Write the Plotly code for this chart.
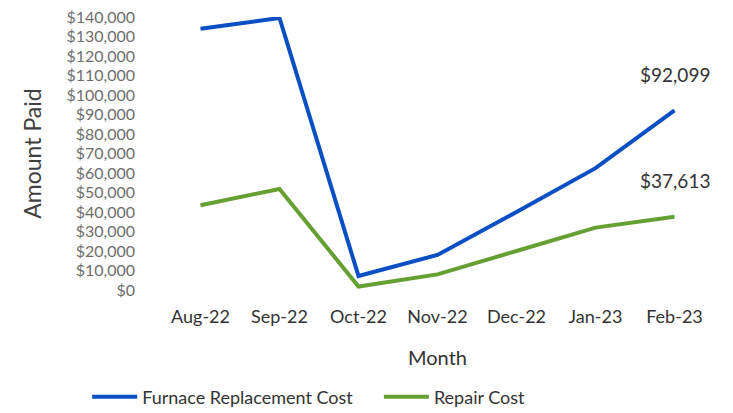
import plotly.graph_objects as go

months = ["Aug-22", "Sep-22", "Oct-22", "Nov-22", "Dec-22", "Jan-23", "Feb-23"]
furnace = [134000, 139500, 7200, 18000, 40000, 62500, 92099]
repair = [43500, 51800, 1800, 8000, 20000, 32000, 37613]

BLUE = "#0A4FC4"
GREEN = "#66A033"
FONT = "Lato"

fig = go.Figure()
fig.add_trace(go.Scatter(x=months, y=furnace, mode="lines", name="Furnace Replacement Cost",
                         line=dict(color=BLUE, width=4), legend="legend"))
fig.add_trace(go.Scatter(x=months, y=repair, mode="lines", name="Repair Cost",
                         line=dict(color=GREEN, width=4), legend="legend2"))

# data labels on the last point of each series
for series in (furnace, repair):
    fig.add_annotation(x=months[-1], y=series[-1], text=f"${series[-1]:,.0f}",
                       showarrow=False, yshift=36, font=dict(size=19, color="#333333"))

legend_style = dict(orientation="h", xref="container", yref="container",
                    y=0.058, xanchor="left", yanchor="middle",
                    font=dict(size=18, color="#333333"), itemwidth=45)

# page body has an 8px margin, so margins are offset a bit
fig.update_layout(
    width=733, height=413,
    margin=dict(l=153, r=27, t=9, b=131, autoexpand=False),
    paper_bgcolor="white", plot_bgcolor="white",
    font=dict(family=FONT, color="#404040"),
    showlegend=True,
    legend=dict(x=0.108, **legend_style),
    legend2=dict(x=0.506, **legend_style),
)
fig.update_xaxes(
    type="category", range=[-0.5, 6.5], showgrid=False, showline=False, ticks="",
    automargin=False, ticklabelstandoff=14,
    tickfont=dict(size=18, color="#333333"),
    title=dict(text="Month", font=dict(size=20, color="#333333"), standoff=24),
)
fig.update_yaxes(
    range=[0, 140000], dtick=10000, tickformat="$,.0f", showgrid=False, zeroline=False,
    showline=False, ticks="", ticklabelstandoff=25, automargin=False, ticklabeloverflow="allow",
    tickfont=dict(size=16, color="#6e6e6e"),
    title=dict(text="Amount Paid", font=dict(size=23, color="#404040"), standoff=18),
)

fig.write_html("out.html")
